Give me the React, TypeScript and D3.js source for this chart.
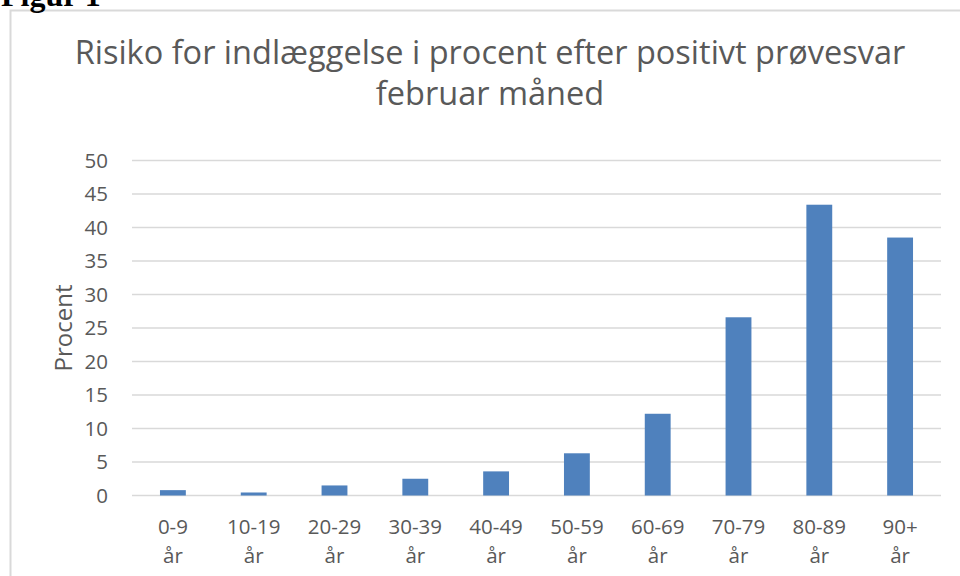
import { useEffect, useRef } from 'react';
import * as d3 from 'd3';

const categories = ['0-9 år', '10-19 år', '20-29 år', '30-39 år', '40-49 år', '50-59 år', '60-69 år', '70-79 år', '80-89 år', '90+ år'];
const values = [0.8, 0.45, 1.5, 2.5, 3.6, 6.3, 12.2, 26.6, 43.4, 38.5];
const yTicks = [0, 5, 10, 15, 20, 25, 30, 35, 40, 45, 50];
const titleLines = ['Risiko for indlæggelse i procent efter positivt prøvesvar', 'februar måned'];

const W = 960;
const H = 576;
const FONT = '"Open Sans", "Noto Sans", sans-serif';
const TEXT = '#595959';

export default function App() {
  const svgRef = useRef<SVGSVGElement>(null);

  useEffect(() => {
    if (!svgRef.current) return;
    const svg = d3.select(svgRef.current);
    svg.selectAll('*').remove();

    const x = d3.scaleBand<string>().domain(categories).range([132.5, 940.5]).paddingInner(0.68).paddingOuter(0.34);
    const y = d3.scaleLinear().domain([0, 50]).range([495.5, 160.5]);

    // chart frame (only top and left edges show)
    svg
      .append('rect')
      .attr('x', 10.5)
      .attr('y', 10.5)
      .attr('width', W + 20)
      .attr('height', H + 20)
      .style('fill', '#fff')
      .style('stroke', '#d9d9d9')
      .style('stroke-width', '2px');

    // caption, cut off at the top as in the source
    svg
      .append('text')
      .attr('x', 1)
      .attr('y', 6)
      .style('font-family', '"Liberation Serif", "DejaVu Serif", serif')
      .style('font-weight', 'bold')
      .style('font-size', '32px')
      .style('fill', '#000')
      .text('Figur 1');

    // title
    svg
      .selectAll('.title')
      .data(titleLines)
      .enter()
      .append('text')
      .attr('class', 'title')
      .attr('x', 490)
      .attr('y', (_d, i) => 64 + i * 41)
      .attr('text-anchor', 'middle')
      .style('font-family', FONT)
      .style('font-size', '32.5px')
      .style('fill', TEXT)
      .text((d) => d);

    // gridlines
    svg
      .append('g')
      .selectAll('line')
      .data(yTicks)
      .enter()
      .append('line')
      .attr('x1', 132)
      .attr('x2', 941)
      .attr('y1', (d) => y(d))
      .attr('y2', (d) => y(d))
      .style('stroke', '#d9d9d9')
      .style('stroke-width', '1.5px');

    // y tick labels
    svg
      .append('g')
      .selectAll('text')
      .data(yTicks)
      .enter()
      .append('text')
      .attr('x', 108)
      .attr('y', (d) => y(d))
      .attr('dy', '0.35em')
      .attr('text-anchor', 'end')
      .style('font-family', FONT)
      .style('font-size', '20.5px')
      .style('fill', TEXT)
      .text((d) => d);

    // y axis title
    svg
      .append('text')
      .attr('transform', 'translate(72, 328) rotate(-90)')
      .attr('text-anchor', 'middle')
      .style('font-family', FONT)
      .style('font-size', '24px')
      .style('fill', TEXT)
      .text('Procent');

    // bars
    svg
      .append('g')
      .selectAll('rect')
      .data(values)
      .enter()
      .append('rect')
      .attr('x', (_d, i) => x(categories[i]) as number)
      .attr('width', x.bandwidth())
      .attr('y', (d) => y(d))
      .attr('height', (d) => y(0) - y(d))
      .style('fill', '#4f81bd');

    // category labels (two lines)
    const cat = svg
      .append('g')
      .selectAll('text')
      .data(categories)
      .enter()
      .append('text')
      .attr('text-anchor', 'middle')
      .style('font-family', FONT)
      .style('font-size', '20.5px')
      .style('fill', TEXT);
    cat.each(function (d) {
      const t = d3.select(this);
      const cx = (x(d) as number) + x.bandwidth() / 2;
      d.split(' ').forEach((part, j) => {
        t.append('tspan').attr('x', cx).attr('y', 534 + j * 29).text(part);
      });
    });
  }, []);

  return (
    <div style={{ position: 'absolute', left: 0, top: 0, width: W, height: H, background: '#fff' }}>
      <svg ref={svgRef} width={W} height={H} style={{ display: 'block' }} />
    </div>
  );
}
